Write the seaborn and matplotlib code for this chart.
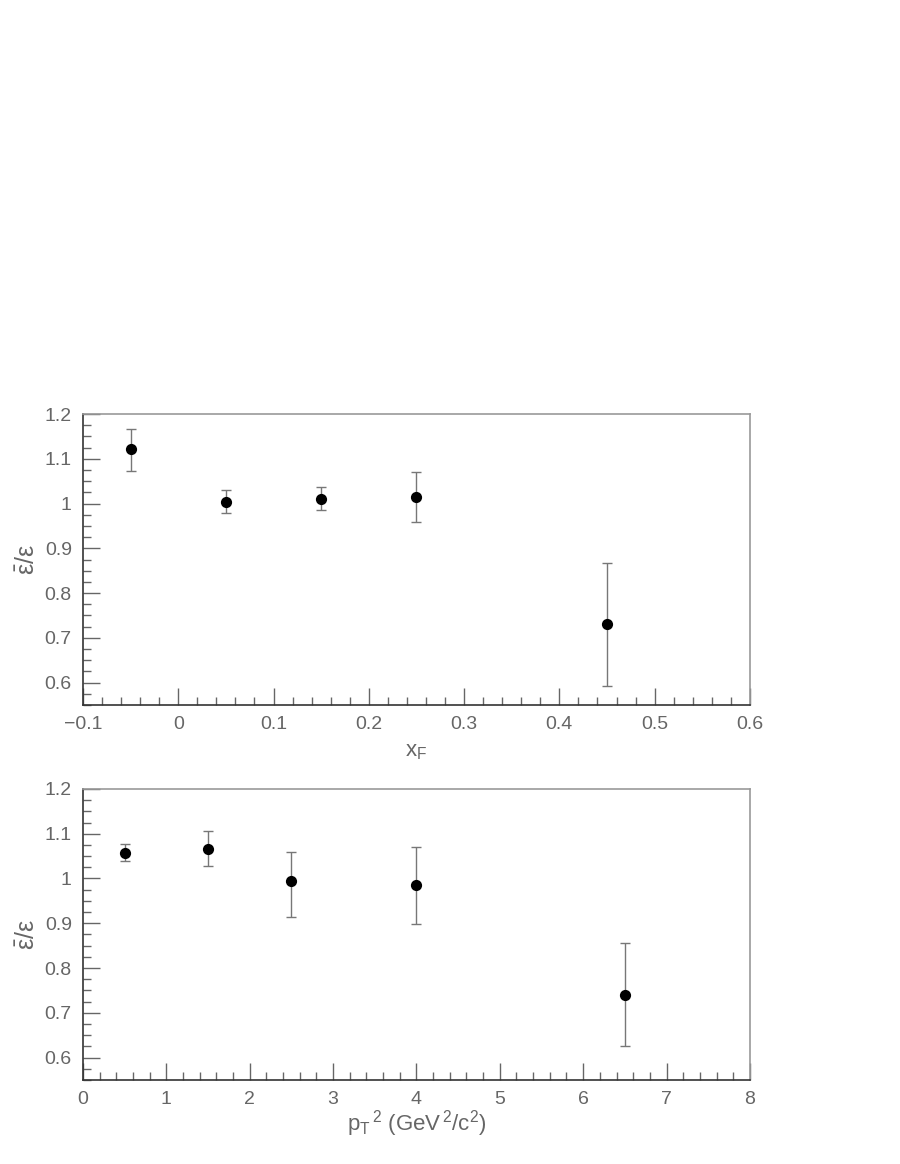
import matplotlib
matplotlib.use("Agg")
import matplotlib.pyplot as plt
import matplotlib.ticker as ticker
import seaborn as sns
import pandas as pd

sns.set_theme(style="ticks")
plt.rcParams["font.family"] = ["Liberation Sans", "DejaVu Sans"]
plt.rcParams["mathtext.default"] = "regular"

# x_F panel
xf = [-0.05, 0.05, 0.15, 0.25, 0.45]
xf_ratio = [1.121, 1.003, 1.010, 1.015, 0.731]
xf_hi = [1.167, 1.030, 1.037, 1.071, 0.867]
xf_lo = [1.072, 0.979, 0.985, 0.958, 0.593]

# pT^2 panel
pt2 = [0.5, 1.5, 2.5, 4.0, 6.5]
pt2_ratio = [1.057, 1.067, 0.994, 0.985, 0.739]
pt2_hi = [1.076, 1.107, 1.059, 1.070, 0.855]
pt2_lo = [1.038, 1.029, 0.914, 0.898, 0.625]

TXT = "#666666"
ylab = r"$\bar{\varepsilon}/\varepsilon$"


def panel(ax, x, y, hi, lo, xlim, xmajor, xminor, xlabel, xpad):
    df = pd.DataFrame({"x": x, "y": y, "hi": hi, "lo": lo})
    ax.errorbar(
        df["x"], df["y"],
        yerr=[df["y"] - df["lo"], df["hi"] - df["y"]],
        fmt="none", ecolor="#777777", elinewidth=1.0, capsize=3.5, capthick=1.0,
        zorder=1,
    )
    sns.scatterplot(data=df, x="x", y="y", color="black", s=65,
                    edgecolor="black", linewidth=0, ax=ax, zorder=2)
    ax.set_xlim(*xlim)
    ax.set_ylim(0.55, 1.2)
    ax.xaxis.set_major_locator(ticker.MultipleLocator(xmajor))
    ax.xaxis.set_minor_locator(ticker.MultipleLocator(xminor))
    ax.yaxis.set_major_locator(ticker.MultipleLocator(0.1))
    ax.yaxis.set_minor_locator(ticker.MultipleLocator(0.025))
    ax.xaxis.set_major_formatter(ticker.FuncFormatter(
        lambda v, p: ("%g" % round(v, 3)).replace("-", "\u2212")))
    ax.yaxis.set_major_formatter(ticker.FuncFormatter(lambda v, p: "%g" % round(v, 3)))
    ax.tick_params(which="both", direction="in", color="#666666", width=1,
                   top=False, right=False, labelcolor=TXT, labelsize=14, pad=8)
    ax.tick_params(which="major", length=12)
    ax.tick_params(which="minor", length=6)
    for side in ["left", "bottom"]:
        ax.spines[side].set_color("#333333")
        ax.spines[side].set_linewidth(1.2)
    for side in ["top", "right"]:
        ax.spines[side].set_color("#999999")
        ax.spines[side].set_linewidth(1.2)
    ax.set_xlabel(xlabel, color=TXT, fontsize=16, labelpad=xpad)
    ax.set_ylabel(ylab, color=TXT, fontsize=18, labelpad=4)


fig = plt.figure(figsize=(9, 11.64), dpi=100)
ax1 = fig.add_axes([0.0922, 0.3943, 0.741, 0.25])
ax2 = fig.add_axes([0.0922, 0.0722, 0.741, 0.25])

panel(ax1, xf, xf_ratio, xf_hi, xf_lo, (-0.1, 0.6), 0.1, 0.02, r"x$_F$", 6)
panel(ax2, pt2, pt2_ratio, pt2_hi, pt2_lo, (0, 8), 1, 0.2,
      r"p$_T$$^{\,2}$ (GeV$^{\,2}$/c$^2$)", 0)

fig.savefig("out.png", dpi=100)
